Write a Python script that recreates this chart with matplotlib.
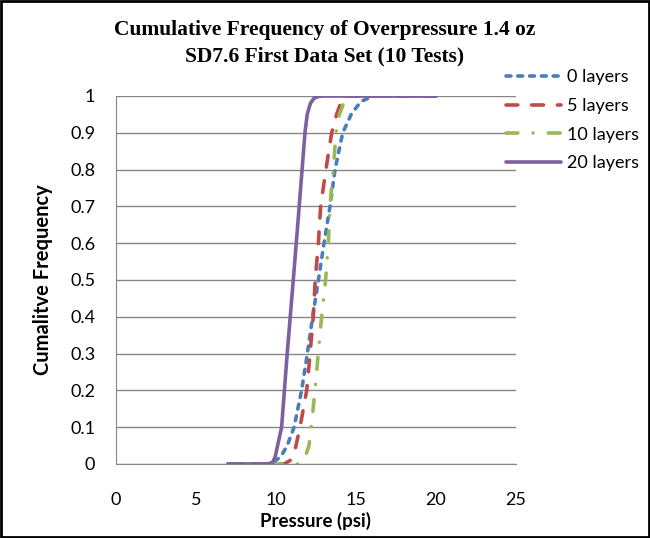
import matplotlib
matplotlib.use("Agg")
import matplotlib.pyplot as plt
from matplotlib.patches import Rectangle

# values
p0  = [7.0, 9.7, 10.3, 10.7, 11.13, 11.6, 11.96, 12.29, 12.65, 13.0, 13.375, 13.69, 14.17, 14.7, 15.3, 16.1, 20.0]
cf0 = [0.0, 0.0, 0.02, 0.05, 0.1, 0.2, 0.3, 0.4, 0.5, 0.6, 0.7, 0.8, 0.9, 0.95, 0.985, 1.0, 1.0]

p5  = [7.0, 10.5, 10.9, 11.2, 11.5, 11.92, 12.13, 12.33, 12.45, 12.65, 12.79, 13.12, 13.48, 13.79, 14.2, 20.0]
cf5 = [0.0, 0.0, 0.01, 0.04, 0.1, 0.2, 0.3, 0.4, 0.5, 0.6, 0.7, 0.8, 0.9, 0.95, 1.0, 1.0]

p10  = [7.0, 11.4, 11.75, 12.06, 12.2, 12.44, 12.64, 12.85, 13.1, 13.27, 13.375, 13.58, 13.75, 13.96, 14.4, 20.0]
cf10 = [0.0, 0.0, 0.01, 0.05, 0.1, 0.2, 0.3, 0.4, 0.5, 0.6, 0.7, 0.8, 0.9, 0.95, 1.0, 1.0]

p20  = [7.0, 9.5, 9.8, 9.95, 10.1, 10.35, 10.7, 11.08, 11.45, 11.81, 11.95, 12.15, 12.4, 12.7, 13.0, 20.0]
cf20 = [0.0, 0.0, 0.005, 0.02, 0.05, 0.1, 0.3, 0.5, 0.7, 0.9, 0.95, 0.98, 0.995, 0.999, 1.0, 1.0]

labels = ["0 layers", "5 layers", "10 layers", "20 layers"]
x_ticks = [0, 5, 10, 15, 20, 25]
y_ticks = [0, 0.1, 0.2, 0.3, 0.4, 0.5, 0.6, 0.7, 0.8, 0.9, 1]

plt.rcParams["lines.scale_dashes"] = False
body_font = ["Lato", "DejaVu Sans"]

fig = plt.figure(figsize=(6.5, 5.38), dpi=100)
ax = fig.add_axes([116 / 650, 1 - 464 / 538, 400 / 650, 368 / 538])

lw = 2.6
ax.plot(p0, cf0, color="#4A7EBB", lw=lw, dashes=(3.5, 5.0),
        dash_capstyle="round", label=labels[0])
ax.plot(p5, cf5, color="#BE4B48", lw=lw, dashes=(8.5, 10.0),
        dash_capstyle="round", label=labels[1])
ax.plot(p10, cf10, color="#98B954", lw=lw, dashes=(8.5, 11.0, 0.01, 11.0),
        dash_capstyle="round", label=labels[2])
ax.plot(p20, cf20, color="#7D60A0", lw=lw, solid_capstyle="round",
        solid_joinstyle="round", label=labels[3])

ax.set_xlim(0, 25)
ax.set_ylim(0, 1)
ax.set_xticks(x_ticks)
ax.set_yticks(y_ticks)
ax.set_xticklabels([str(t) for t in x_ticks], family=body_font, fontsize=13)
ax.set_yticklabels([f"{t:g}" for t in y_ticks], family=body_font, fontsize=13)
ax.tick_params(axis="both", length=0)
ax.tick_params(axis="x", pad=20)
ax.tick_params(axis="y", pad=15)
ax.yaxis.grid(True, color="#868686", lw=1)
ax.set_axisbelow(True)
for s in ["top", "right"]:
    ax.spines[s].set_visible(False)
for s in ["left", "bottom"]:
    ax.spines[s].set_color("#868686")

ax.set_xlabel("Pressure (psi)", family=body_font, fontsize=13.5, fontweight="bold", labelpad=3)
ax.set_ylabel("Cumalitve Frequency", family=body_font, fontsize=14.5, fontweight="bold", labelpad=12)

fig.text(0.5, 1 - 30 / 538, "Cumulative Frequency of Overpressure 1.4 oz",
         ha="center", va="center", family="Liberation Serif", fontweight="bold", fontsize=15.5)
fig.text(0.5, 1 - 56 / 538, "SD7.6 First Data Set (10 Tests)",
         ha="center", va="center", family="Liberation Serif", fontweight="bold", fontsize=15.5)

leg = fig.legend(loc="upper left", bbox_to_anchor=(490 / 650, 1 - 53 / 538),
                 frameon=False, handlelength=3.05, handletextpad=0.3,
                 labelspacing=0.7, prop={"family": body_font, "size": 13})

fig.patches.append(Rectangle((0.002, 0.002), 0.996, 0.996, transform=fig.transFigure,
                             fill=False, edgecolor="black", lw=2))

fig.savefig("out.png", dpi=100)
